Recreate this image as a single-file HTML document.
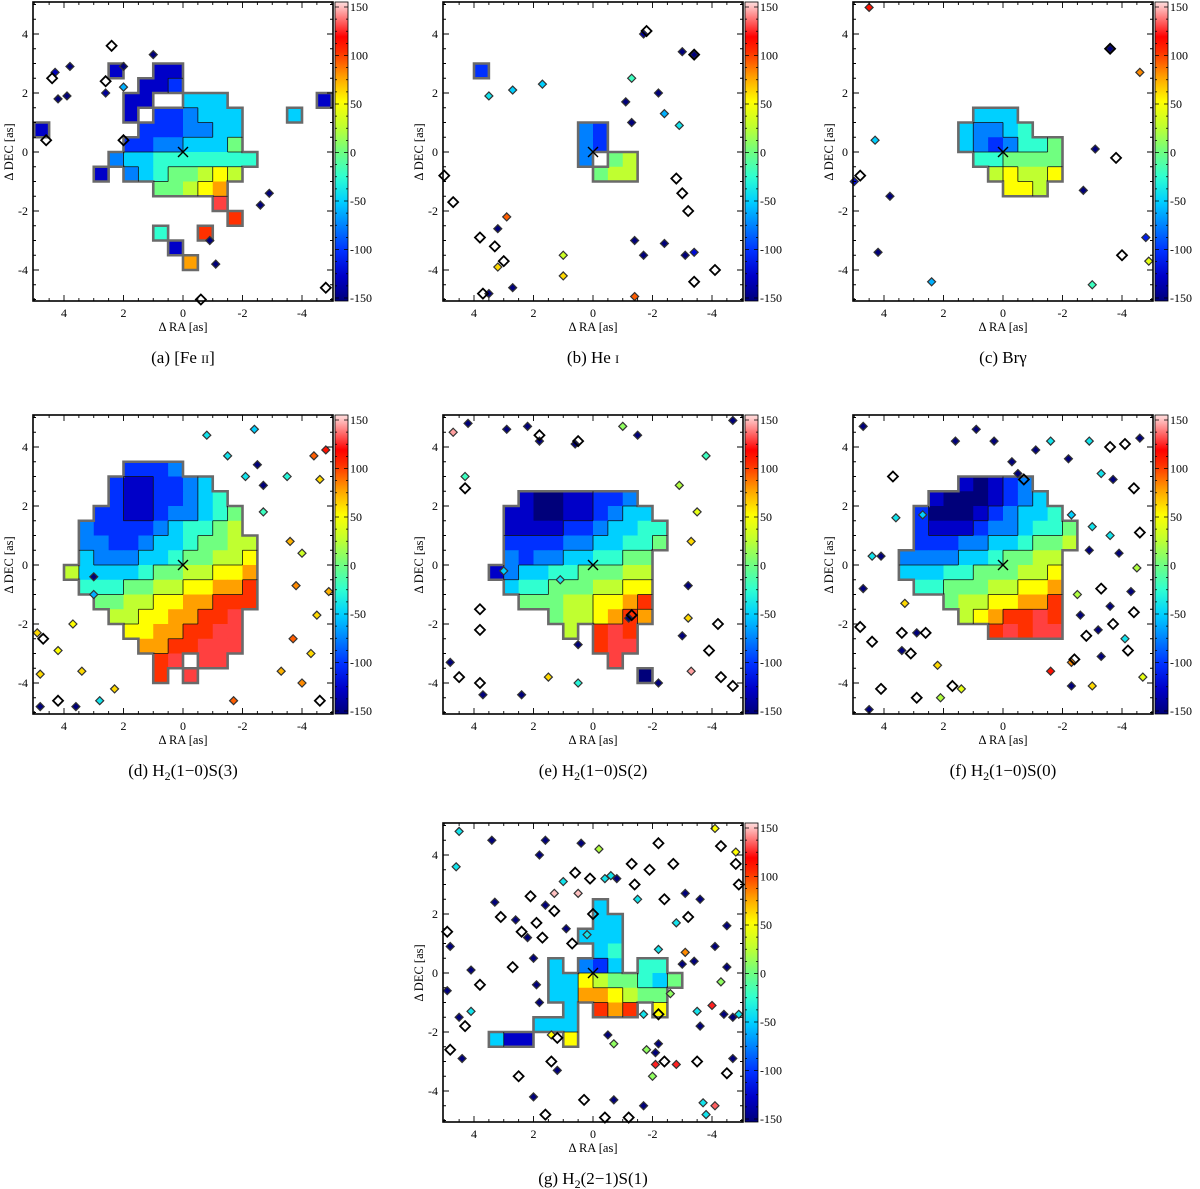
<!DOCTYPE html>
<html><head><meta charset="utf-8"><title>Velocity maps</title>
<style>
html,body{margin:0;padding:0;background:#fff;}
svg{display:block;font-family:"Liberation Serif",serif;}
</style></head>
<body>
<svg id="fig" width="1200" height="1189" viewBox="0 0 1200 1189" xmlns="http://www.w3.org/2000/svg">
<defs>
<linearGradient id="cmap" x1="0" y1="1" x2="0" y2="0">
<stop offset="0" stop-color="#00007a"/><stop offset="0.0833" stop-color="#0000c8"/>
<stop offset="0.1667" stop-color="#0030ff"/><stop offset="0.25" stop-color="#0080ff"/>
<stop offset="0.3333" stop-color="#00d0ff"/><stop offset="0.4167" stop-color="#30ffd0"/>
<stop offset="0.5" stop-color="#70ff80"/><stop offset="0.5833" stop-color="#c0ff30"/>
<stop offset="0.6667" stop-color="#ffff00"/><stop offset="0.75" stop-color="#ffa000"/>
<stop offset="0.8333" stop-color="#ff3000"/><stop offset="0.8833" stop-color="#ff0000"/>
<stop offset="1" stop-color="#ffe0e0"/>
</linearGradient>
</defs>
</svg>
<script>
// velocity level codes: A=-150 ... M=+150 in steps of 25
const levelCodes = "ABCDEFGHIJKLM";
const levelVelocities = [-150,-125,-100,-75,-50,-25,0,25,50,75,100,125,150];
const xTicks = [4,2,0,-2,-4];
const yTicks = [4,2,0,-2,-4];
const cbTicks = [150,100,50,0,-50,-100,-150];

// runs: [row, startCol, codes]  (row 0 = DEC 5..4.5, col 0 = RA 5..4.5, cells 0.5 as)
const runsA = [[4,5,"B"],[4,8,"BB"],[5,7,"BB"],[5,9,"C"],[6,6,"BB"],[6,10,"EEE"],[7,6,"B"],[7,8,"CCDEEE"],
 [8,7,"CCCDDEE"],[9,6,"CCDDEEEE"],[10,5,"DEEFFFFFFF"],[11,4,"B"],[11,6,"DEFGGHIH"],[12,8,"GGHIJ"],
 [13,12,"L"],[14,13,"K"],[15,11,"K"],[16,9,"B"],[17,10,"J"],[7,17,"E"],[6,19,"B"],[8,0,"B"],[15,8,"F"],[9,13,"G"]];
const runsB = [[8,9,"DC"],[9,9,"DC"],[10,9,"D"],[10,11,"GH"],[11,10,"GHH"],[4,2,"C"]];
const runsC = [[7,8,"EEE"],[8,7,"EDDEF"],[9,7,"EDCDFFG"],[10,8,"FFGGGG"],[11,9,"HIHHI"],[12,10,"IIH"]];
const runsD = [[3,6,"CCCD"],[4,5,"CBBCCDE"],[5,5,"CBBCCDEF"],[6,4,"CCBBCDDEFG"],[7,3,"DCCCCDEFFGH"],
 [8,3,"DDCCDEEFGGHH"],[9,3,"EDDDEEFGGHHI"],[10,2,"HEEEEFGGHHIIJ"],[11,3,"FFFGGHHIIJJK"],[12,4,"GGHHIIJJKKK"],
 [13,5,"HHIIJJKKL"],[14,6,"IIJJKKLL"],[15,7,"JJKKLLL"],[16,8,"KL"],[16,11,"LL"],[17,8,"K"],[17,10,"L"]];
const runsE = [[5,5,"BAABBCCD"],[6,4,"BBAABBCDEE"],[7,4,"BBBBCCDEEFF"],[8,4,"CCCCDDEEFFG"],[9,4,"DCDDEEFFGG"],
 [10,3,"BDEEFFGGGHH"],[11,4,"EFFGGGHHII"],[12,5,"GGGHHIIJK"],[13,7,"GHHIJKJ"],[14,8,"H"],[14,10,"KLK"],
 [15,10,"KLL"],[16,11,"L"],[17,13,"A"]];
const runsF = [[4,7,"BABCD"],[5,5,"BAAABCDE"],[6,4,"CAAABCDEEF"],[7,4,"CBBBCDDEFFG"],[8,4,"CCCDDEEFGGH"],
 [9,3,"DDDDEEFGGHH"],[10,3,"EEEFFGGGHHI"],[11,4,"FFGGGHHIIJ"],[12,6,"GHHIIJJK"],[13,7,"HIJKKLK"],[14,9,"KLKLL"]];
const runsG = [[5,10,"E"],[6,10,"EE"],[7,9,"EEE"],[8,10,"EF"],[9,7,"E"],[9,9,"DCE"],[9,13,"FF"],[10,7,"EE"],
 [10,9,"IHGGFEG"],[11,7,"E"],[11,8,"EJJIHGG"],[12,8,"E"],[12,10,"KJK"],[12,14,"I"],[13,6,"EE"],[13,8,"E"],
 [14,3,"EBB"],[14,8,"I"]];

// spots: [ra, dec, velocity]
const spotsA = [[3.8,2.9,-150],[4.2,1.8,-150],[3.9,1.9,-150],[2.6,2.0,-140],[2.0,2.9,-150],[-2.9,-1.4,-150],
 [-2.6,-1.8,-150],[-1.1,-3.8,-150],[-0.9,-3.0,-150],[2.0,2.2,-60],[4.3,2.7,-130],[1.0,3.3,-150]];
const spotsB = [[3.5,1.9,-40],[2.7,2.1,-50],[1.7,2.3,-50],[-1.7,4.0,-140],[-3.0,3.4,-150],[-1.3,2.5,-20],
 [-2.2,2.0,-150],[-1.1,1.7,-150],[-3.4,3.3,-150],[-2.9,0.9,-40],[-1.3,1.0,-150],[-2.4,1.3,-60],[-1.4,-4.9,90],
 [-3.4,-3.4,-120],[-3.1,-3.5,-150],[1.0,-3.5,30],[1.0,-4.2,60],[2.7,-4.6,-150],[3.5,-4.8,-150],[3.2,-3.9,60],
 [3.2,-2.6,-150],[2.9,-2.2,90],[-1.4,-3.0,-150],[-2.4,-3.1,-150],[-1.7,-3.5,-150]];
const spotsC = [[4.3,0.4,-50],[5,-1.0,-120],[3.8,-1.5,-150],[2.4,-4.4,-60],[-3.0,-4.5,-20],[-4.8,-2.9,-110],
 [-4.9,-3.7,40],[-4.6,2.7,80],[4.5,4.9,110],[4.2,-3.4,-150],[-3.1,0.1,-150],[-3.6,3.5,-150],[-2.7,-1.3,-150]];
const spotsD = [[-3.6,0.8,70],[-4.0,0.4,30],[-3.8,-0.7,80],[-4.5,-1.7,60],[-3.7,-2.5,90],[-4.3,-3.0,60],[-4.0,-4.0,80],
 [-3.3,-3.6,70],[-4.4,3.7,90],[-4.8,3.9,110],[-4.6,2.9,60],[-3.5,3.0,-30],[-2.5,3.4,-150],[-2.1,3.0,-40],
 [-1.5,3.7,-40],[-2.7,1.8,-20],[-2.4,4.6,-50],[-2.7,2.7,-150],[-0.8,4.4,-40],[4.9,-2.3,60],[4.8,-3.7,60],
 [4.8,-4.8,-150],[3.6,-4.8,-150],[2.8,-4.6,-40],[3.4,-3.6,60],[4.2,-2.9,50],[3.7,-2.0,50],[3.0,-1.0,-60],
 [-1.7,-4.6,90],[2.3,-4.2,60],[3.0,-0.4,-150],[-4.9,-0.9,70]];
const spotsE = [[4.7,4.5,140],[4.2,4.8,-150],[2.9,4.6,-150],[2.2,4.7,-150],[1.8,4.2,-150],[0.6,4.1,-150],
 [-1.5,4.4,-150],[-1.0,4.7,10],[-4.7,4.9,-150],[-3.8,3.7,-20],[4.3,3.0,-20],[-2.9,2.7,20],[-3.5,1.8,40],
 [-3.3,0.8,60],[-3.2,-0.7,-150],[-3.2,-1.8,60],[-3.0,-2.4,-150],[-3.3,-3.6,140],[1.5,-3.8,60],[0.5,-4.0,-30],
 [0.5,-2.7,-150],[3.0,-0.2,-50],[1.1,-0.5,-40],[3.7,-4.4,-150],[2.4,-4.4,-150],[-2.2,-4.0,-150],[4.8,-3.3,-150],
 [-1.2,-1.8,-150]];
const spotsF = [[4.7,4.7,-150],[4.7,-0.8,-150],[4.1,0.3,-150],[4.4,0.3,-40],[3.6,1.6,-40],[2.7,1.7,-50],
 [2.9,-2.3,-150],[3.4,-2.9,-150],[1.6,4.2,-150],[0.9,4.6,-150],[0.3,4.2,-150],[-0.3,3.5,-150],[-0.5,3.1,-150],
 [-1.1,3.9,-150],[-2.2,3.6,-150],[-1.6,4.2,-40],[-2.9,4.2,-40],[-3.3,3.1,-40],[-3.7,2.9,-150],[-4.6,4.3,-150],
 [-2.3,1.7,-50],[-3.0,1.3,-40],[-3.6,1.0,-40],[-3.9,0.4,-150],[-2.9,0.5,-150],[-4.3,-0.9,-150],[-3.6,-1.4,-150],
 [-2.6,-1.7,-150],[-3.2,-2.2,-150],[-4.1,-2.5,-40],[-3.3,-3.1,-150],[-2.3,-3.3,80],[-1.6,-3.6,110],[-2.3,-4.1,-150],
 [-3.0,-4.1,60],[-4.7,-3.8,40],[-4.5,-0.1,20],[-2.5,-1.0,20],[2.2,-3.4,60],[1.4,-4.2,40],[3.3,-1.3,60],
 [4.5,-4.9,-150],[2.1,-4.5,20]];
const spotsG = [[3.4,4.5,-150],[1.6,4.5,-150],[0.4,4.4,-150],[1.8,4.0,-150],[3.3,2.4,-150],[2.6,1.8,-150],
 [1.6,2.3,-150],[2.2,1.2,-150],[0.9,1.5,-150],[4.8,0.9,-150],[4.1,0.1,-150],[4.9,-0.6,-150],[4.5,-1.5,-150],
 [4.4,-2.9,-150],[1.2,-3.3,-150],[-0.5,-2.1,-150],[-2.2,-2.4,-150],[-2.1,-2.7,-150],[-0.7,-4.3,-150],
 [-1.7,-4.5,-150],[-0.8,3.2,-150],[-3.1,2.7,-150],[-3.6,2.5,-150],[-4.5,1.6,-150],[-4.1,0.9,-150],
 [-3.0,0.3,-150],[-3.4,0.4,-150],[-4.5,0.2,-150],[-4.4,-1.4,-150],[-4.7,-1.5,-150],[-3.6,-1.8,-150],
 [-4.7,-2.9,-150],[2.0,-4.2,-150],[1.8,-1.0,-150],[1.9,-0.4,-150],[2.0,0.5,-150],
 [4.5,4.8,-40],[4.6,3.6,-40],[1.0,3.1,-40],[-0.4,3.2,-40],[-0.6,3.3,-40],[-0.2,4.2,20],[-1.5,2.5,-40],
 [-2.8,1.7,-40],[-2.2,0.8,-40],[-3.1,0.7,80],[4.1,-1.3,-40],[-3.5,-1.3,-40],[-4.0,-1.1,120],[-4.9,-1.4,-40],
 [-1.7,-1.4,-40],[1.3,2.7,145],[0.5,2.7,145],[0.2,1.3,-40],[1.4,-2.1,50],[-0.7,-2.4,10],[-1.8,-2.6,10],
 [-2.0,-3.5,10],[-2.6,-0.7,10],[-4.3,-0.3,10],[-4.1,-4.5,130],[-3.7,-4.4,-40],[-3.8,-4.8,-40],[-2.8,-3.1,120],
 [-2.1,-3.1,120],[-4.8,4.1,50],[-4.1,4.9,50]];

// hollow contour islands: [ra, dec]
const hollowA = [[2.4,3.6],[4.6,0.4],[2.0,0.4],[2.6,2.4],[4.4,2.5],[-0.6,-5.0],[-4.8,-4.6]];
const hollowB = [[5,-0.8],[4.7,-1.7],[3.8,-2.9],[3.3,-3.2],[3.0,-3.7],[-3.0,-1.4],[-3.2,-2.0],[-4.1,-4.0],
 [-3.4,-4.4],[-2.8,-0.9],[-1.8,4.1],[-3.4,3.3],[3.7,-4.8]];
const hollowC = [[-4.0,-3.5],[-3.8,-0.2],[-3.6,3.5],[4.8,-0.8]];
const hollowD = [[4.7,-2.5],[-4.6,-4.6],[4.2,-4.6]];
const hollowE = [[4.3,2.6],[3.8,-1.5],[3.8,-2.2],[4.5,-3.8],[3.8,-4.0],[-1.3,-1.7],[-4.3,-3.8],[-4.7,-4.1],
 [-4.2,-2.0],[-3.9,-2.9],[1.8,4.4],[0.5,4.2]];
const hollowF = [[4.8,-2.1],[4.4,-2.6],[3.4,-2.3],[3.1,-3.0],[2.6,-2.3],[1.7,-4.1],[2.9,-4.5],[4.1,-4.2],
 [3.7,3.0],[-3.6,4.0],[-4.1,4.1],[-4.4,2.6],[-4.6,1.1],[-3.3,-0.8],[-4.4,-1.6],[-3.7,-2.0],[-4.2,-2.9],
 [-2.8,-2.4],[-2.4,-3.2],[-0.7,2.9]];
const hollowG = [[-2.2,4.4],[-4.3,4.3],[-4.8,3.7],[-2.7,3.7],[-1.3,3.7],[-1.9,3.5],[0.6,3.4],[0.1,3.2],
 [-1.4,3.0],[2.1,2.6],[1.3,2.1],[3.1,1.9],[1.9,1.7],[1.7,1.2],[2.4,1.4],[0.7,1.0],[0.0,2.0],[4.9,1.4],
 [2.7,0.2],[3.8,-0.4],[4.3,-1.8],[4.8,-2.6],[1.2,-2.2],[1.4,-3.0],[2.5,-3.5],[0.3,-4.3],[-0.4,-4.9],
 [-1.2,-4.9],[1.6,-4.8],[-2.2,-1.4],[-2.4,-3.0],[-3.5,-3.0],[-4.5,-3.4],[-3.2,1.9],[-2.4,2.5],[-4.9,3.0]];

const panelIds = ["a","b","c","d","e","f","g"];
const panelRuns = [runsA,runsB,runsC,runsD,runsE,runsF,runsG];
const panelSpots = [spotsA,spotsB,spotsC,spotsD,spotsE,spotsF,spotsG];
const panelHollow = [hollowA,hollowB,hollowC,hollowD,hollowE,hollowF,hollowG];
const panelCaptions = ["(a)  [Fe |II|]","(b)  He |I|","(c)  Brγ","(d)  H_2(1−0)S(3)","(e)  H_2(1−0)S(2)","(f)  H_2(1−0)S(0)","(g)  H_2(2−1)S(1)"];

const NS="http://www.w3.org/2000/svg";
const svg=document.getElementById('fig');
const offsets=[[0,0],[410,0],[820,0],[0,413],[410,413],[820,413],[410,821]];
const cstops=[[-150,[0,0,122]],[-125,[0,0,200]],[-100,[0,48,255]],[-75,[0,128,255]],[-50,[0,208,255]],[-25,[48,255,208]],
 [0,[112,255,128]],[25,[192,255,48]],[50,[255,255,0]],[75,[255,160,0]],[100,[255,48,0]],[115,[255,0,0]],[150,[255,224,224]]];
function vcolor(v){
  v=Math.max(-150,Math.min(150,v));
  for(let i=0;i<cstops.length-1;i++){const a=cstops[i],b=cstops[i+1];
    if(v<=b[0]){const t=(v-a[0])/(b[0]-a[0]);const c=a[1].map((x,k)=>Math.round(x+(b[1][k]-x)*t));return `rgb(${c})`;}}
  return 'rgb(255,224,224)';
}
function mk(tag,attrs,parent){const e=document.createElementNS(NS,tag);for(const k in attrs)e.setAttribute(k,attrs[k]);(parent||svg).appendChild(e);return e;}

panelIds.forEach((pid,pi)=>{
  const [ox,oy]=offsets[pi];
  const xs=ra=>183+ox-ra*29.75;
  const ys=dec=>152+oy-dec*29.5;
  const g=mk('g',{});
  
  
  const map={};
  panelRuns[pi].forEach(([r,c0,s])=>{for(let i=0;i<s.length;i++){const ch=s[i];if(ch==='.')continue;map[r+','+(c0+i)]=levelCodes.indexOf(ch);}});
  const cg=mk('g',{},g);
  
  
  const cellRA=c=>5-0.5*c, cellDEC=r=>5-0.5*r;
  Object.keys(map).forEach(k=>{const [r,c]=k.split(',').map(Number);
    const x=xs(cellRA(c)),y=ys(cellDEC(r));
    const rect=mk('rect',{x:x.toFixed(2),y:y.toFixed(2),width:(xs(cellRA(c+1))-x+0.4).toFixed(2),height:(ys(cellDEC(r+1))-y+0.4).toFixed(2),fill:vcolor(levelVelocities[map[k]])},cg);
    
    
  });
  let outer='',inner='';
  Object.keys(map).forEach(k=>{const [r,c]=k.split(',').map(Number);const L=map[k];
    const x0=xs(cellRA(c)),x1=xs(cellRA(c+1)),y0=ys(cellDEC(r)),y1=ys(cellDEC(r+1));
    const nb=[[r-1,c,`M${x0} ${y0}H${x1}`],[r+1,c,`M${x0} ${y1}H${x1}`],[r,c-1,`M${x0} ${y0}V${y1}`],[r,c+1,`M${x1} ${y0}V${y1}`]];
    nb.forEach(([rr,cc,p],j)=>{const n=map[rr+','+cc];
      if(n===undefined)outer+=p;
      else if((j===1||j===3)&&Math.floor(n/2)!==Math.floor(L/2))inner+=p;});
  });
  const po=mk('path',{d:outer,stroke:'#6a6a6a','stroke-width':2.6,fill:'none','stroke-linecap':'square'},g);
  
  
  const pin=mk('path',{d:inner,stroke:'#111','stroke-width':0.8,fill:'none'},g);
  
  
  panelSpots[pi].forEach(([ra,dec,v])=>{const x=xs(ra),y=ys(dec);
    const d=mk('path',{d:`M${x} ${y-4}L${x+4} ${y}L${x} ${y+4}L${x-4} ${y}Z`,fill:vcolor(v),stroke:'#333','stroke-width':1.2},g);
    
    
  });
  panelHollow[pi].forEach(([ra,dec])=>{const x=xs(ra),y=ys(dec);
    const d=mk('path',{d:`M${x} ${y-5}L${x+5} ${y}L${x} ${y+5}L${x-5} ${y}Z`,fill:'none',stroke:'#000','stroke-width':1.8},g);
    
    
  });
  const cx=xs(0),cy=ys(0);
  const cr=mk('path',{d:`M${cx-5} ${cy-5}L${cx+5} ${cy+5}M${cx-5} ${cy+5}L${cx+5} ${cy-5}`,stroke:'#000','stroke-width':1.4},g);
  
  
  const fx0=33+ox,fx1=333+ox,fy0=2+oy,fy1=301+oy;
  const fr=mk('rect',{x:fx0,y:fy0,width:fx1-fx0,height:fy1-fy0,fill:'none',stroke:'#000','stroke-width':1.6},g);
  
  
  let tk='';
  for(let v=-5;v<=5.001;v+=0.5){const major=Math.abs(v%2)<0.01;const l=major?6:3;
    const x=xs(v),y=ys(v);
    tk+=`M${x} ${fy1}v${-l}M${x} ${fy0}v${l}M${fx0} ${y}h${l}M${fx1} ${y}h${-l}`;}
  const tp=mk('path',{d:tk,stroke:'#000','stroke-width':0.9},g);
  
  
  xTicks.forEach(t=>{const e=mk('text',{x:xs(t),y:fy1+16,'text-anchor':'middle','font-size':12},g);e.textContent=String(t);
    
    });
  yTicks.forEach(t=>{const e=mk('text',{x:fx0-5,y:ys(t)+4,'text-anchor':'end','font-size':12},g);e.textContent=String(t);
    
    });
  const xt=mk('text',{x:183+ox,y:fy1+30,'text-anchor':'middle','font-size':12.5},g);xt.textContent='Δ RA [as]';
  
  
  const yt=mk('text',{x:0,y:0,'text-anchor':'middle','font-size':12.5,transform:`translate(${13+ox},${152+oy}) rotate(-90)`},g);yt.textContent='Δ DEC [as]';
  
  
  const cbx=335+ox,cbw=13;
  const cby=v=>152.5+oy-v*0.97;
  const cb=mk('rect',{x:cbx,y:fy0,width:cbw,height:fy1-fy0,fill:'url(#cmap)',stroke:'#000','stroke-width':0.8},g);
  
  
  let ct='';
  for(let v=-150;v<=150;v+=12.5){const l=(v%50===0)?4:2;ct+=`M${cbx} ${cby(v)}h${l}M${cbx+cbw} ${cby(v)}h${-l}`;}
  const ctp=mk('path',{d:ct,stroke:'#000','stroke-width':0.7},g);
  
  
  cbTicks.forEach(t=>{const e=mk('text',{x:cbx+cbw+2,y:cby(t)+4,'font-size':12},g);e.textContent=String(t);
    
    });
  const cap=mk('text',{x:183+ox,y:fy1+62,'text-anchor':'middle','font-size':17},g);
  
  
  const parts=panelCaptions[pi].split('|');
  parts.forEach((p,i)=>{
    if(i%2===1){const ts=mk('tspan',{'font-size':12},cap);ts.textContent=p;return;}
    const sub=p.split('_');
    sub.forEach((s,j)=>{
      if(j===0){const ts=mk('tspan',{},cap);ts.textContent=s;}
      else{const a=mk('tspan',{'font-size':12,dy:4},cap);a.textContent=s[0];const b=mk('tspan',{dy:-4},cap);b.textContent=s.slice(1);}
    });
  });
});
</script>
</body></html>
